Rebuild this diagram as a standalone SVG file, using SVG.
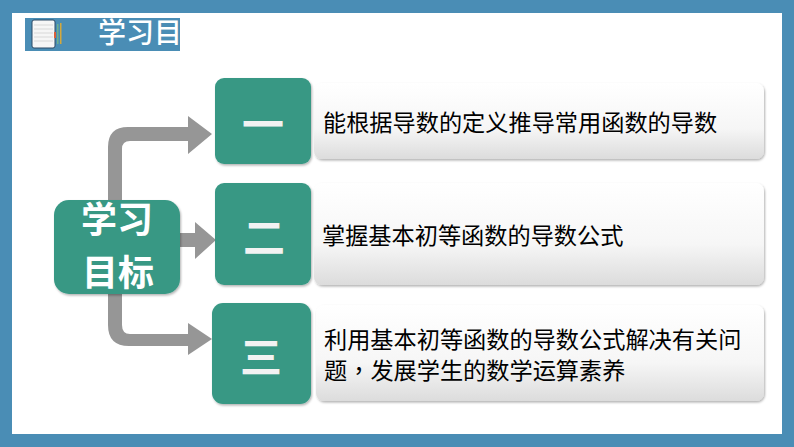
<svg xmlns="http://www.w3.org/2000/svg" width="794" height="447" viewBox="0 0 794 447">
<defs>
<linearGradient id="card" x1="0" y1="0" x2="0" y2="1"><stop offset="0" stop-color="#ffffff"/><stop offset="0.6" stop-color="#f6f6f6"/><stop offset="1" stop-color="#dcdcdc"/></linearGradient>
<filter id="sh" x="-10%" y="-10%" width="120%" height="120%"><feDropShadow dx="1" dy="1.5" stdDeviation="1.2" flood-color="#000" flood-opacity="0.3"/></filter>
</defs>
<style>
.t{font-family:"Noto Sans CJK SC","Liberation Sans",sans-serif}
.box{fill:#379884;filter:url(#sh)}
.card{fill:url(#card);filter:url(#sh)}
.label{font-size:23.2px;fill:#000;font-weight:400}
.num{font-size:42px;fill:#f2f2f2;font-weight:700;text-anchor:middle}
.c{font-size:36px;fill:#fff;font-weight:700;text-anchor:middle}
.arrow{fill:#969696}
</style>
<rect width="794" height="447" fill="#fff"/>
<path d="M0 0H794V447H0ZM12 13V434H782V13Z" fill="#4a8db5" fill-rule="evenodd"/>
<g id="title">
<rect x="25" y="18" width="155" height="33" fill="#4a8db5"/>
<rect x="32" y="20" width="23" height="28" rx="2" fill="#f6f6f6" stroke="#2c4a66"/>
<path d="M34 25H53M34 29H53M34 33H53M34 37H53M34 41H53" stroke="#d8d8d8" stroke-width="1"/>
<rect x="54" y="32" width="2" height="6" fill="#d9603a"/>
<rect x="57" y="24" width="1.5" height="20" fill="#6fb08a"/>
<rect x="60" y="23" width="1.5" height="21" fill="#d4a83c"/>
<text class="t" x="98" y="43" font-size="28" font-weight="500" fill="#fff">学习目</text>
</g>
<g id="connectors">
<path class="arrow" d="M108 204V147Q108 127 128 127H188V116L212 134L188 154V141H130Q122 141 122 149V204Z"/>
<path class="arrow" d="M176 233H195V222L216 240L195 259V247H176Z"/>
<path class="arrow" d="M108 290V325Q108 346 129 346H188V355L212 339L188 323V334H130Q122 334 122 325V290Z"/>
</g>
<g id="center">
<rect class="box" x="54" y="200" width="126" height="94" rx="15"/>
<text class="t c" x="117" y="233">学习</text>
<text class="t c" x="118" y="286">目标</text>
</g>
<g id="node1">
<rect class="card" x="314" y="83" width="450" height="76" rx="8"/>
<rect class="box" x="215" y="78" width="96" height="86" rx="9"/>
<text class="t num" x="263" y="140">一</text>
<text class="t label" x="323" y="131">能根据导数的定义推导常用函数的导数</text>
</g>
<g id="node2">
<rect class="card" x="314" y="183" width="450" height="102" rx="8"/>
<rect class="box" x="215" y="183" width="96" height="102" rx="9"/>
<text class="t num" x="264" y="253">二</text>
<text class="t label" x="322" y="244">掌握基本初等函数的导数公式</text>
</g>
<g id="node3">
<rect class="card" x="316" y="305" width="448" height="96" rx="8"/>
<rect class="box" x="212" y="303" width="99" height="101" rx="11"/>
<text class="t num" x="261" y="373">三</text>
<text class="t label" x="324" y="348">利用基本初等函数的导数公式解决有关问</text>
<text class="t label" x="324" y="379">题<tspan font-family="'Noto Sans CJK TC',sans-serif">，</tspan>发展学生的数学运算素养</text>
</g>
</svg>
